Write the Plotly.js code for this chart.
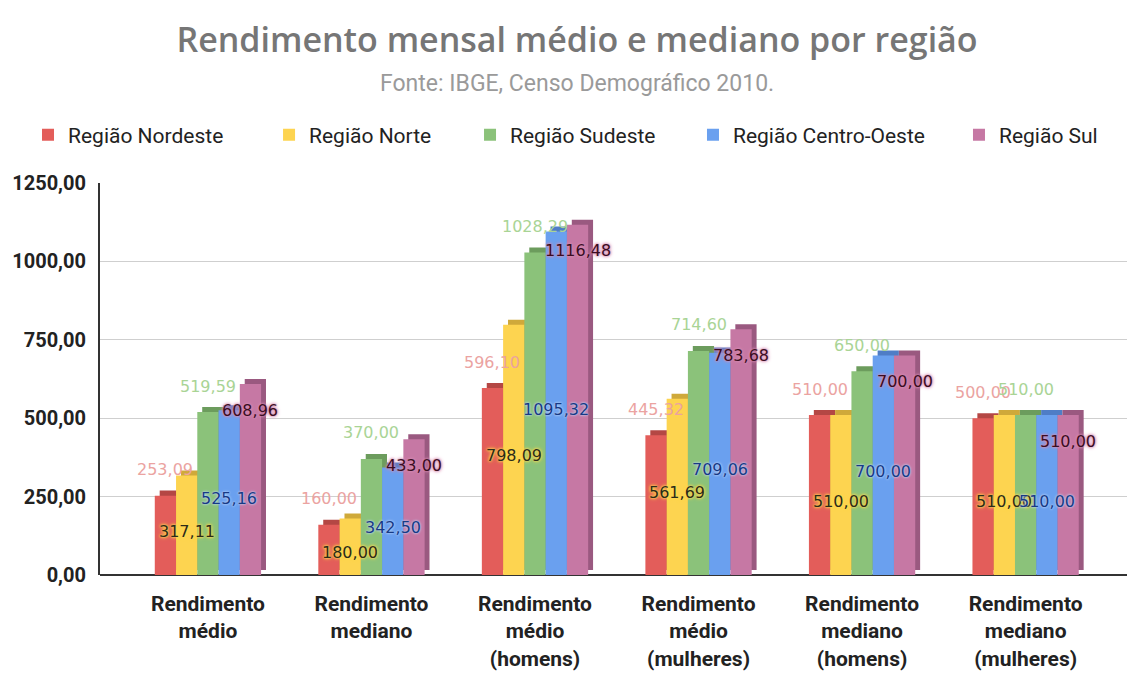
<!DOCTYPE html>
<html>
<head>
<meta charset="utf-8">
<script src="https://cdn.plot.ly/plotly-3.0.1.min.js"></script>
<style>html,body{margin:0;padding:0;background:#fff;}#chart{width:1127px;height:677px;}</style>
</head>
<body>
<div id="chart"></div>
<script>
// ---- data ----
const categories = [
  'Rendimento<br>médio',
  'Rendimento<br>mediano',
  'Rendimento<br>médio<br>(homens)',
  'Rendimento<br>médio<br>(mulheres)',
  'Rendimento<br>mediano<br>(homens)',
  'Rendimento<br>mediano<br>(mulheres)'
];
const seriesNames = ['Região Nordeste', 'Região Norte', 'Região Sudeste', 'Região Centro-Oeste', 'Região Sul'];
const nordeste    = [253.09, 160.00, 596.10, 445.32, 510.00, 500.00];
const norte       = [317.11, 180.00, 798.09, 561.69, 510.00, 510.00];
const sudeste     = [519.59, 370.00, 1028.29, 714.60, 650.00, 510.00];
const centroOeste = [525.16, 342.50, 1095.32, 709.06, 700.00, 510.00];
const sul         = [608.96, 433.00, 1116.48, 783.68, 700.00, 510.00];
const yTickVals   = [0, 250, 500, 750, 1000, 1250];

// ---- styles ----
const allSeries = [nordeste, norte, sudeste, centroOeste, sul];
const colors     = ['#e35d5a', '#fdd450', '#8bc27a', '#6aa0ef', '#c678a4'];
const sideColors = ['#b44744', '#cfa93a', '#6c9c5d', '#4f7dc6', '#9a5980'];
const NARROW = '"Roboto", "Liberation Sans", sans-serif';
const W = 0.13;      // bar width (category units)
const DX = 0.03;     // 3D depth horizontal (category units)
const DY = 16;       // 3D depth vertical (value units)
const legendX = [-0.0701, 0.1646, 0.3603, 0.5774, 0.8364];
const legendIds = ['legend', 'legend2', 'legend3', 'legend4', 'legend5'];
const xIdx = categories.map((c, j) => j);
const fmt = v => v.toFixed(2).replace('.', ',');

const traces = [];
// side/top faces (drawn first, behind)
allSeries.forEach((vals, i) => {
  traces.push({
    type: 'bar', x: xIdx, y: vals, base: DY, width: W,
    offset: (-2.5 + i) * W + DX,
    marker: {color: sideColors[i], line: {width: 0}},
    showlegend: false, hoverinfo: 'skip'
  });
});
// front faces
allSeries.forEach((vals, i) => {
  traces.push({
    type: 'bar', name: seriesNames[i], x: xIdx, y: vals, width: W,
    offset: (-2.5 + i) * W, legend: legendIds[i],
    marker: {color: colors[i], line: {width: 0}}
  });
});

// data labels
const labelStyle = [
  {pos: 'above', color: '#eba3a1', shadow: 'none'},
  {pos: 'mid',   color: '#2b2b1a', shadow: '0 0 2px #ffd84d, 0 0 3px #ffd84d, 0 0 4px #ffd84d'},
  {pos: 'above', color: '#a9d495', shadow: 'none'},
  {pos: 'mid',   color: '#173a85', shadow: '0 0 2px #bcd3f7, 0 0 3px #bcd3f7'},
  {pos: 'below', color: '#3a0d22', shadow: '0 0 2px #d78bb3, 0 0 3px #d78bb3, 0 0 4px #d78bb3'}
];
const annotations = [];
allSeries.forEach((vals, i) => {
  const st = labelStyle[i];
  vals.forEach((v, j) => {
    let y = v, ys = 0;
    if (st.pos === 'above') { ys = 26; }
    else if (st.pos === 'below') { ys = -26; }
    else { y = v / 2; ys = -6; }
    annotations.push({
      x: j + (-2 + i) * W, y: y, yshift: ys, xref: 'x', yref: 'y',
      text: fmt(v), showarrow: false, xanchor: 'center', yanchor: 'middle',
      font: {family: 'DejaVu Sans, sans-serif', size: 16, color: st.color, shadow: st.shadow}
    });
  });
});
annotations.push({
  text: 'Fonte: IBGE, Censo Demográfico 2010.', xref: 'paper', yref: 'paper',
  x: 0.4645, y: 1.255, xanchor: 'center', yanchor: 'middle', showarrow: false,
  font: {family: NARROW, size: 23, color: '#9a9a9a'}
});

const layout = {
  width: 1127, height: 677,
  margin: {l: 100, r: 0, t: 183, b: 102, pad: 0},
  paper_bgcolor: '#ffffff', plot_bgcolor: '#ffffff',
  separators: ',.',
  barmode: 'overlay',
  title: {
    text: 'Rendimento mensal médio e mediano por região',
    x: 0.512, xanchor: 'center', xref: 'container',
    y: 0.941, yanchor: 'middle', yref: 'container',
    font: {family: '"Open Sans", sans-serif', size: 34, weight: 600, color: '#767676'}
  },
  showlegend: true,
  xaxis: {
    type: 'linear', range: [-0.66, 5.62],
    tickvals: xIdx, ticktext: categories,
    showgrid: false, zeroline: false, showline: false, ticks: '',
    ticklabelstandoff: 14,
    tickfont: {family: NARROW, size: 21, weight: 'bold', color: '#222'}
  },
  yaxis: {
    range: [0, 1250], tickvals: yTickVals, tickformat: '.2f',
    showgrid: true, gridcolor: '#cfcfcf', gridwidth: 1,
    zeroline: true, zerolinecolor: '#333', zerolinewidth: 2,
    showline: true, linecolor: '#333', linewidth: 2, ticks: '',
    ticklabelstandoff: 8,
    tickfont: {family: NARROW, size: 20, weight: 'bold', color: '#222'}
  },
  annotations: annotations
};
legendIds.forEach((id, i) => {
  layout[id] = {
    orientation: 'h', x: legendX[i], xanchor: 'left', y: 1.122, yanchor: 'middle',
    font: {family: NARROW, size: 21, color: '#222'},
    bgcolor: 'rgba(0,0,0,0)'
  };
});

Plotly.newPlot('chart', traces, layout, {displayModeBar: false, staticPlot: true});
</script>
</body>
</html>
